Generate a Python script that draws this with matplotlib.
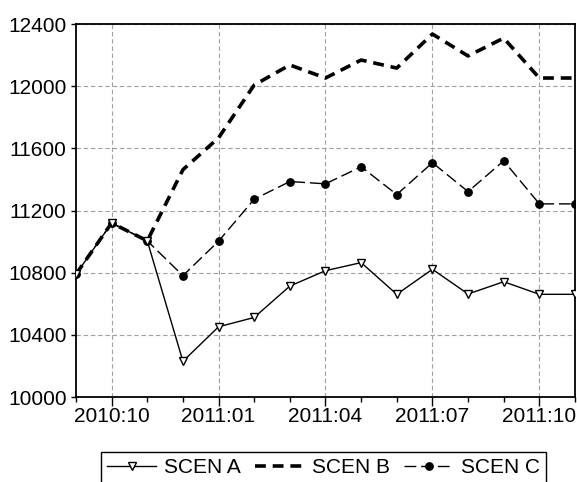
import matplotlib
matplotlib.use("Agg")
import matplotlib.pyplot as plt

plt.rcParams['font.family'] = ['Liberation Sans', 'DejaVu Sans']

months = ["2010:09", "2010:10", "2010:11", "2010:12", "2011:01", "2011:02", "2011:03",
          "2011:04", "2011:05", "2011:06", "2011:07", "2011:08", "2011:09", "2011:10", "2011:11"]
scen_a = [10790, 11120, 11005, 10230, 10452, 10512, 10714,
          10813, 10865, 10661, 10822, 10663, 10742, 10661, 10661]
scen_b = [10790, 11120, 11005, 11463, 11668, 12008, 12137,
          12053, 12169, 12117, 12336, 12195, 12310, 12053, 12053]
scen_c = [10790, 11120, 11005, 10781, 11003, 11273, 11387,
          11372, 11482, 11303, 11508, 11322, 11520, 11243, 11243]
y_ticks = [10000, 10400, 10800, 11200, 11600, 12000, 12400]

x = list(range(len(months)))
major_idx = [1, 4, 7, 10, 13]

fig = plt.figure(figsize=(5.77, 4.82), dpi=100)
ax = fig.add_axes([0.1317, 0.1763, 0.8648, 0.7737])

ax.plot(x, scen_b, color='black', lw=2.6, dashes=(3, 1.9), label='SCEN B', zorder=3)
ax.plot(x, scen_c, color='black', lw=1.0, dashes=(8.5, 3.5), marker='o', ms=5.3,
        label='SCEN C', zorder=4)
ax.plot(x, scen_a, color='black', lw=1.0, marker='v', ms=5.6, mfc='white', mec='black',
        mew=1.0, label='SCEN A', zorder=5)

ax.set_xlim(0, len(months) - 1)
ax.set_ylim(10000, 12400)
ax.set_yticks(y_ticks)
ax.set_yticklabels([str(v) for v in y_ticks])
ax.set_xticks(major_idx)
ax.set_xticklabels([months[i] for i in major_idx])
ax.set_xticks(x, minor=True)

ax.grid(True, which='major', color='#a0a0a0', lw=0.8, linestyle=(0, (4, 2.5)))
ax.set_axisbelow(True)

ax.tick_params(axis='both', which='major', direction='out', labelsize=15, width=1.0)
ax.tick_params(axis='x', which='major', length=6.7, pad=0.5)
ax.tick_params(axis='x', which='minor', length=3.8, width=1.0)
ax.tick_params(axis='y', which='major', length=3.8, pad=3)
for s in ax.spines.values():
    s.set_linewidth(1.3)

h, l = ax.get_legend_handles_labels()
order = [2, 0, 1]
leg = fig.legend([h[i] for i in order], [l[i] for i in order], loc='upper left',
                 bbox_to_anchor=(101 / 577, 1 - 452 / 482), ncol=3, fontsize=15,
                 handlelength=2.36, handletextpad=0.38, columnspacing=0.67,
                 borderpad=0.3, borderaxespad=0, fancybox=False, frameon=True,
                 framealpha=1)
leg.get_frame().set_edgecolor('black')
leg.get_frame().set_linewidth(1.0)

fig.savefig("out.png", dpi=100)
